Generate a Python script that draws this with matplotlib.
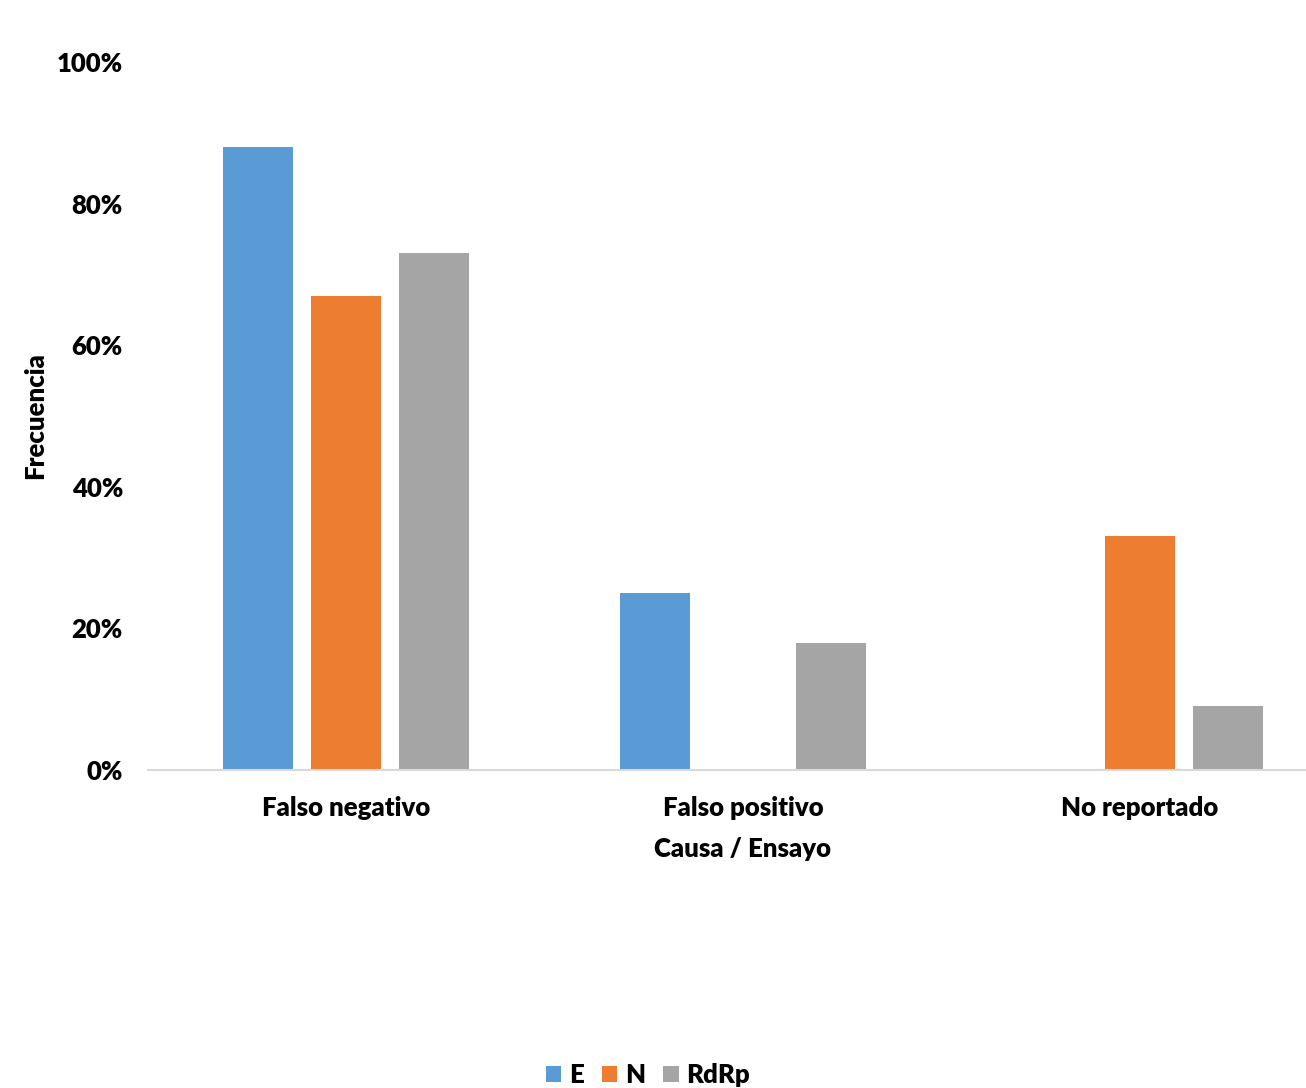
import numpy as np
import matplotlib
matplotlib.use("Agg")
import matplotlib.pyplot as plt
from matplotlib.ticker import PercentFormatter

plt.rcParams['font.family'] = ['Lato', 'DejaVu Sans']
plt.rcParams['font.weight'] = 'heavy'

categorias = ["Falso negativo", "Falso positivo", "No reportado"]
series = ["E", "N", "RdRp"]
valores_E = [0.88, 0.25, 0.0]
valores_N = [0.67, 0.0, 0.33]
valores_RdRp = [0.73, 0.18, 0.09]
colores = ["#5B9BD5", "#ED7D31", "#A5A5A5"]

fig = plt.figure(figsize=(13.06, 10.88), dpi=100, facecolor="w")
# el eje se sale por la derecha, como en la imagen original
ax = fig.add_axes([148/1306, 1 - 770/1088, 1190/1306, 708/1088])

x = np.arange(len(categorias))
ancho = 0.176
paso = 0.222
for i, (nombre, vals) in enumerate(zip(series, [valores_E, valores_N, valores_RdRp])):
    ax.bar(x + (i - 1)*paso, vals, width=ancho, color=colores[i], label=nombre, zorder=2)

ax.set_xlim(-0.5, 2.5)
ax.set_ylim(0, 1.0)
ax.set_yticks(np.arange(0, 1.01, 0.2))
ax.yaxis.set_major_formatter(PercentFormatter(1.0, decimals=0))
ax.set_xticks(x)
ax.set_xticklabels(categorias)
ax.tick_params(axis="both", length=0, labelsize=18.5)
ax.tick_params(axis="y", pad=18)
ax.tick_params(axis="x", pad=19)
for s in ["top", "right", "left"]:
    ax.spines[s].set_visible(False)
ax.spines["bottom"].set_color("#D9D9D9")
ax.spines["bottom"].set_linewidth(1.5)

ax.set_xlabel("Causa / Ensayo", fontsize=18.5, fontweight="heavy", labelpad=12)
ax.set_ylabel("Frecuencia", fontsize=18.5, fontweight="heavy", labelpad=7)

fig.legend(loc="center", bbox_to_anchor=(648/1306, 1 - 1075/1088), ncol=3, frameon=False,
           fontsize=18.5, handlelength=0.6, handleheight=0.6, handletextpad=0.3, columnspacing=0.7)

plt.savefig("out.png", dpi=100, facecolor="w")
